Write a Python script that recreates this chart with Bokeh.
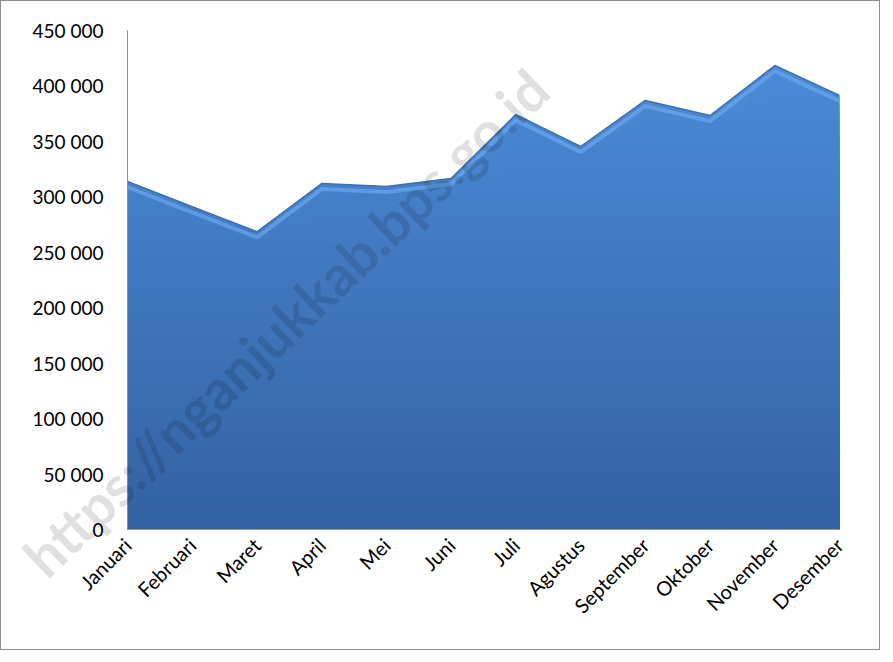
import numpy as np
from bokeh.plotting import figure
from bokeh.layouts import column
from bokeh.models import Range1d, FixedTicker, Label
from bokeh.embed import file_html
from bokeh.resources import INLINE

months = ["Januari", "Februari", "Maret", "April", "Mei", "Juni", "Juli",
          "Agustus", "September", "Oktober", "November", "Desember"]
values = [313800, 291000, 268500, 312000, 309300, 316500, 374200,
          345400, 386900, 373300, 418400, 391400]
y_ticks = list(range(0, 450001, 50000))
y_labels = {t: f"{t:,}".replace(",", " ") for t in y_ticks}
watermark = "https://nganjukkab.bps.go.id"

W, H = 880, 650
x = np.arange(len(months))
v = np.array(values, dtype=float)

p = figure(width=W, height=H, output_backend="svg", toolbar_location=None,
           x_range=Range1d(0, len(months) - 1), y_range=Range1d(0, 450000),
           min_border_left=126, min_border_right=42, min_border_top=29,
           min_border_bottom=122)
p.styles = {"border": "1px solid #8c8c8c"}
p.outline_line_color = None
p.grid.grid_line_color = None
p.background_fill_color = "white"
p.border_fill_color = "white"

# gradient fill via overlapping bands (drawn top-down)
top_c = np.array([0x4d, 0x8e, 0xdc])
bot_c = np.array([0x34, 0x62, 0xa2])
edges = np.linspace(0, 450000, 61)
zeros = np.zeros_like(v)
for i in range(len(edges) - 2, -1, -1):
    b0, b1 = edges[i], edges[i + 1]
    if b0 >= v.max():
        continue
    hi = np.minimum(v, b1)
    t = (b0 + b1) / 2 / 450000
    c = (bot_c + (top_c - bot_c) * t).astype(int)
    col = "#%02x%02x%02x" % tuple(c)
    p.varea(x=x, y1=zeros, y2=hi, fill_color=col, fill_alpha=1.0)

# bevel highlight along top edge
p.line(x, v - 5000, line_color="#6aa6ec", line_width=4, line_alpha=0.7)
p.line(x, v, line_color="#3a72b8", line_width=1.5)

p.xaxis.ticker = FixedTicker(ticks=list(x))
p.xaxis.major_label_overrides = {int(i): m for i, m in zip(x, months)}
p.xaxis.major_label_orientation = np.pi / 4
p.xaxis.axis_line_color = "#9a9a9a"
p.xaxis.major_tick_line_color = None
p.xaxis.minor_tick_line_color = None
p.xaxis.major_label_text_font = "Lato"
p.xaxis.major_label_text_font_size = "20px"
p.xaxis.major_label_text_color = "black"
p.xaxis.major_label_standoff = 6

p.yaxis.ticker = FixedTicker(ticks=y_ticks)
p.yaxis.major_label_overrides = y_labels
p.yaxis.axis_line_color = "#8c8c8c"
p.yaxis.major_tick_line_color = None
p.yaxis.minor_tick_line_color = None
p.yaxis.major_label_text_font = "Lato"
p.yaxis.major_label_text_font_size = "19px"
p.yaxis.major_label_text_color = "black"
p.yaxis.major_label_standoff = 18

# transparent overlay figure carrying the watermark (so it is not clipped)
ov = figure(width=W, height=H, output_backend="svg", toolbar_location=None,
            x_axis_location=None, y_axis_location=None, min_border=0,
            x_range=Range1d(0, W), y_range=Range1d(0, H))
ov.grid.visible = False
ov.outline_line_color = None
ov.background_fill_alpha = 0
ov.border_fill_alpha = 0
if "frame_align" in ov.properties():
    ov.frame_align = False
    p.frame_align = False
wm = Label(x=285, y=328, x_units="screen", y_units="screen", text=watermark,
           angle=0.765, text_align="center", text_baseline="middle",
           text_font="Lato", text_font_style="bold", text_font_size="56px",
           text_color="black", text_alpha=0.12)
ov.add_layout(wm)

inner = column(ov, spacing=0)
inner.margin = (-H, 0, 0, 0)
layout = column(p, inner, spacing=0)
open("out.html", "w").write(file_html(layout, INLINE))
